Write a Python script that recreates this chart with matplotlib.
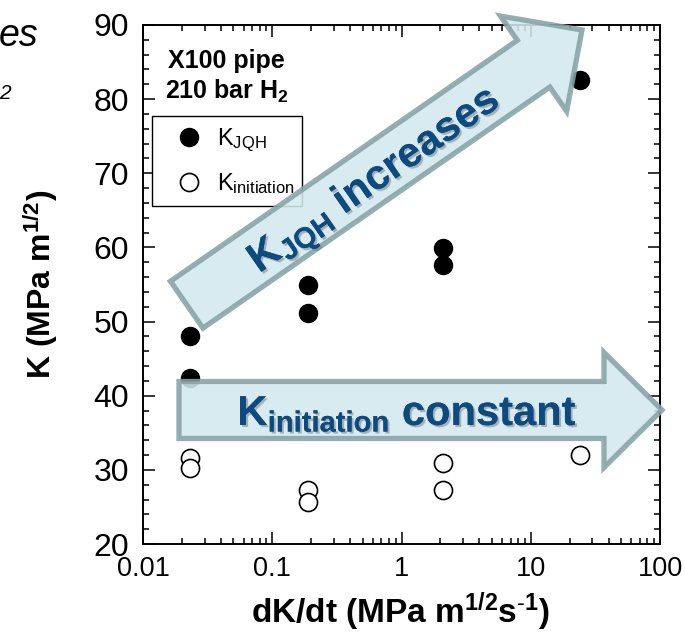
import matplotlib
matplotlib.use("Agg")
import matplotlib.pyplot as plt
import matplotlib.transforms as mtransforms
import matplotlib.patheffects as pe
from matplotlib.patches import Polygon, Rectangle
from matplotlib.ticker import MultipleLocator, LogLocator, NullFormatter, FixedLocator, FixedFormatter
import numpy as np

plt.rcParams["font.family"] = ["Liberation Sans", "DejaVu Sans"]
plt.rcParams["mathtext.fontset"] = "custom"
plt.rcParams["mathtext.rm"] = "Liberation Sans"
plt.rcParams["mathtext.it"] = "Liberation Sans:italic"
plt.rcParams["mathtext.bf"] = "Liberation Sans:bold"

# Loading rate dK/dt (MPa m^1/2 s^-1) and measured fracture toughness (MPa m^1/2)
jqh_rate = [0.023, 0.023, 0.19, 0.19, 2.1, 2.1, 24]
k_jqh = [48.0, 42.4, 54.9, 51.2, 59.9, 57.6, 82.6]
init_rate = [0.023, 0.023, 0.19, 0.19, 2.1, 2.1, 24]
k_init = [31.6, 30.2, 27.3, 25.7, 30.9, 27.3, 32.0]

x_ticks = [0.01, 0.1, 1, 10, 100]
x_tick_labels = ["0.01", "0.1", "1", "10", "100"]
y_ticks = [20, 30, 40, 50, 60, 70, 80, 90]

W, H = 685, 635
fig = plt.figure(figsize=(W / 100, H / 100), dpi=100)
ax = fig.add_axes([143 / W, 1 - 544 / H, 517 / W, 519 / H])

# Pixel-space transform (origin top-left, y downward) for annotations
pix = mtransforms.Affine2D().scale(1 / W, -1 / H).translate(0, 1) + fig.transFigure

ax.set_xscale("log")
ax.set_xlim(0.01, 100)
ax.set_ylim(20, 90)

ax.plot(jqh_rate, k_jqh, "o", ms=13, mfc="black", mec="black", mew=1.0,
        label=r"$\mathregular{K_{JQH}}$", zorder=3)
ax.plot(init_rate, k_init, "o", ms=13, mfc="white", mec="black", mew=1.2,
        label=r"$\mathregular{K_{initiation}}$", zorder=3)

ax.xaxis.set_major_locator(FixedLocator(x_ticks))
ax.xaxis.set_major_formatter(FixedFormatter(x_tick_labels))
ax.xaxis.set_minor_locator(LogLocator(base=10, subs=np.arange(2, 10)))
ax.xaxis.set_minor_formatter(NullFormatter())
ax.yaxis.set_major_locator(FixedLocator(y_ticks))
ax.yaxis.set_minor_locator(MultipleLocator(2))

ax.tick_params(which="both", direction="in", top=True, right=True, width=1.1)
ax.tick_params(which="major", length=8.5)
ax.tick_params(axis="y", which="major", pad=10, labelsize=23)
ax.tick_params(axis="x", which="major", pad=9, labelsize=19.5)
ax.tick_params(which="minor", length=4.3)
for s in ax.spines.values():
    s.set_linewidth(1.4)

fig.text(400, 623, r"dK/dt (MPa m$^{\mathbf{1/2}}$s$^{\mathbf{\text{-}1}}$)", transform=pix,
         ha="center", va="baseline", fontsize=24, fontweight="bold")
ax.set_ylabel(r"K (MPa m$^{\mathbf{1/2}}$)", fontsize=23, fontweight="bold",
              labelpad=24)

ax.text(0.162, 0.9, "X100 pipe\n" + r"210 bar H$_{\mathbf{2}}$", transform=ax.transAxes,
        ha="center", va="center", fontsize=18, fontweight="bold", linespacing=1.25)

# Legend entries without frame; the box is drawn separately
leg = ax.legend(loc="upper left", bbox_to_anchor=(175, 127), bbox_transform=pix,
                borderaxespad=0, borderpad=0, fontsize=17, frameon=False,
                handlelength=1.2, handletextpad=0.6, labelspacing=0.7)
leg.set_zorder(5)
ax.add_artist(Rectangle((152, 116), 150, 90, transform=pix, facecolor="white",
                        edgecolor="black", lw=1.0, zorder=4.5))


def block_arrow(tail, tip, shaft_w, head_w, head_l):
    t = np.asarray(tail, float)
    p = np.asarray(tip, float)
    u = (p - t) / np.hypot(*(p - t))
    n = np.array([-u[1], u[0]])
    base = p - head_l * u
    pts = [t + n * shaft_w / 2, base + n * shaft_w / 2, base + n * head_w / 2, p,
           base - n * head_w / 2, base - n * shaft_w / 2, t - n * shaft_w / 2]
    return np.array(pts), u, n


fill_c = "#d3e9ee"
edge_c = "#86a3a6"
text_c = "#0c4a80"
shadow = [pe.withSimplePatchShadow(offset=(1.5, -1.5), shadow_rgbFace="#777777", alpha=0.5),
          pe.Normal()]

# Rising arrow
pts, u, n = block_arrow((186.7, 304.7), (582, 30), 57, 116, 59)
fig.add_artist(Polygon(pts, closed=True, transform=pix, facecolor=fill_c,
                       edgecolor=edge_c, lw=3.8, alpha=0.88, joinstyle="miter",
                       zorder=6, clip_on=False))
ang = np.degrees(np.arctan2(-u[1], u[0]))
c = np.array([372, 177]) + 15 * np.array([-u[1], u[0]])
fig.text(c[0], c[1], r"$\mathbf{K_{JQH}}$ increases", transform=pix, rotation=ang,
         rotation_mode="anchor", ha="center", va="baseline", fontsize=30,
         fontweight="bold", color=text_c, zorder=7, path_effects=shadow)

# Horizontal arrow
pts, u, n = block_arrow((179, 410), (662, 410), 57, 115, 58)
fig.add_artist(Polygon(pts, closed=True, transform=pix, facecolor=fill_c,
                       edgecolor=edge_c, lw=3.8, alpha=0.88, joinstyle="miter",
                       zorder=6, clip_on=False))
fig.text(407, 425, r"$\mathbf{K_{initiation}}$ constant", transform=pix,
         ha="center", va="baseline", fontsize=30, fontweight="bold", color=text_c,
         zorder=7, path_effects=shadow)

# Fragments of neighbouring slide text at the left edge
fig.text(-1, 46, "es", transform=pix, ha="left", va="baseline", fontsize=27,
         style="italic", color="black")
fig.text(-1, 99, "2", transform=pix, ha="left", va="baseline", fontsize=15,
         style="italic", color="black")

fig.savefig("out.png", dpi=100)
